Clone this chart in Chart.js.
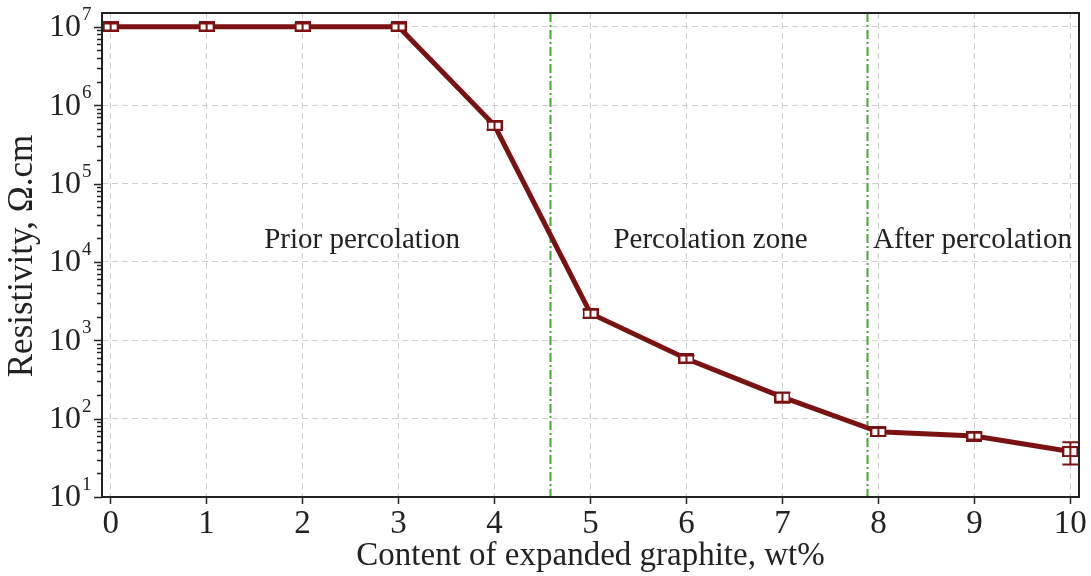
<!DOCTYPE html>
<html>
<head>
<meta charset="utf-8">
<script src="https://cdn.jsdelivr.net/npm/chart.js@4"></script>
<style>
  html, body { margin: 0; padding: 0; background: #ffffff; }
  #wrap { width: 1091px; height: 576px; }
</style>
</head>
<body>
<div id="wrap"><canvas id="resChart" width="1091" height="576"></canvas></div>
<script>
// ---------- data ----------
const graphiteContent = [0, 1, 2, 3, 4, 5, 6, 7, 8, 9, 10];
const resistivity = [1.0e7, 1.0e7, 1.0e7, 1.0e7, 5.5e5, 2.2e3, 580, 188, 68, 60, 38];
const resistivityErr = [1.0e6, 1.0e6, 1.0e6, 1.0e6, 6.5e4, 2.6e2, 60, 28, 8, 6, 12];
const xTicks = [0, 1, 2, 3, 4, 5, 6, 7, 8, 9, 10];
const yExponents = [1, 2, 3, 4, 5, 6, 7];
const zoneEdges = [4.58, 7.88];
const zoneNames = ["Prior percolation", "Percolation zone", "After percolation"];

const SERIF = "'Liberation Serif', 'Times New Roman', serif";
const INK = "#222222";
const LINE_RED = "#7a1212";

// open rectangle marker
const marker = document.createElement("canvas");
marker.width = 16;
marker.height = 11;
(function () {
  const m = marker.getContext("2d");
  m.fillStyle = "#ffffff";
  m.fillRect(1, 1, 14, 9);
  m.strokeStyle = LINE_RED;
  m.lineWidth = 2;
  m.strokeRect(1, 1, 14, 9);
})();

// ---------- extras: frame, y ticks/labels, zones, error bars ----------
const extras = {
  id: "extras",
  beforeDatasetsDraw(chart) {
    const { ctx, chartArea: a, scales: { x, y } } = chart;
    ctx.save();
    // zone boundaries
    ctx.strokeStyle = "#45a833";
    ctx.lineWidth = 2;
    ctx.setLineDash([9, 3, 2, 3]);
    zoneEdges.forEach(v => {
      const px = Math.round(x.getPixelForValue(v)) + 0.5;
      ctx.beginPath();
      ctx.moveTo(px, a.top);
      ctx.lineTo(px, a.bottom);
      ctx.stroke();
    });
    ctx.setLineDash([]);
    // zone names
    ctx.fillStyle = INK;
    ctx.font = "29px " + SERIF;
    ctx.textAlign = "center";
    ctx.textBaseline = "middle";
    const ty = y.getPixelForValue(1.9e4);
    const cx = [2.62, 6.25, 8.98];
    zoneNames.forEach((t, i) => ctx.fillText(t, x.getPixelForValue(cx[i]), ty));
    ctx.restore();
  },
  afterDatasetsDraw(chart) {
    const { ctx, scales: { x, y } } = chart;
    ctx.save();
    ctx.strokeStyle = LINE_RED;
    ctx.lineWidth = 2;
    graphiteContent.forEach((g, i) => {
      const px = x.getPixelForValue(g);
      const hi = y.getPixelForValue(resistivity[i] + resistivityErr[i]);
      const lo = y.getPixelForValue(resistivity[i] - resistivityErr[i]);
      ctx.beginPath();
      ctx.moveTo(px, hi); ctx.lineTo(px, lo);
      ctx.moveTo(px - 8, hi); ctx.lineTo(px + 8, hi);
      ctx.moveTo(px - 8, lo); ctx.lineTo(px + 8, lo);
      ctx.stroke();
    });
    ctx.restore();
  },
  afterDraw(chart) {
    const { ctx, chartArea: a, scales: { y } } = chart;
    ctx.save();
    // frame
    ctx.strokeStyle = INK;
    ctx.lineWidth = 2;
    ctx.strokeRect(a.left, a.top, a.right - a.left, a.bottom - a.top);
    // y tick marks, major and minor
    ctx.lineWidth = 1.5;
    for (let e = 1; e <= 7; e++) {
      for (let k = 1; k <= 9; k++) {
        const v = k * Math.pow(10, e);
        if (v > y.max) break;
        const py = Math.round(y.getPixelForValue(v)) + 0.5;
        const len = k === 1 ? 8 : 5;
        ctx.beginPath();
        ctx.moveTo(a.left - len, py);
        ctx.lineTo(a.left, py);
        ctx.stroke();
      }
    }
    // y labels 10^n
    ctx.fillStyle = INK;
    ctx.textBaseline = "middle";
    yExponents.forEach(n => {
      const py = y.getPixelForValue(Math.pow(10, n));
      ctx.font = "32px " + SERIF;
      ctx.textAlign = "right";
      ctx.fillText("10", 81, py + 1);
      ctx.font = "19px " + SERIF;
      ctx.textAlign = "left";
      ctx.fillText(String(n), 82, py - 12);
    });
    // y title
    ctx.translate(23, 256);
    ctx.rotate(-Math.PI / 2);
    ctx.textAlign = "center";
    ctx.font = "35px " + SERIF;
    ctx.fillText("Resistivity, \u03A9.cm", 0, 0);
    ctx.restore();
  }
};

// ---------- chart ----------
new Chart(document.getElementById("resChart"), {
  type: "line",
  data: {
    labels: graphiteContent,
    datasets: [{
      label: "Resistivity",
      data: graphiteContent.map((g, i) => ({ x: g, y: resistivity[i] })),
      borderColor: LINE_RED,
      borderWidth: 5,
      pointStyle: marker,
      pointRadius: 6,
      tension: 0,
      fill: false
    }]
  },
  options: {
    responsive: false,
    animation: false,
    events: [],
    layout: { padding: { top: 13, right: 12, left: 0, bottom: 0 } },
    plugins: {
      legend: { display: false },
      tooltip: { enabled: false }
    },
    scales: {
      x: {
        type: "linear",
        min: -0.09,
        max: 10.09,
        afterBuildTicks(scale) {
          scale.ticks = xTicks.map(v => ({ value: v }));
        },
        afterFit(scale) { scale.height = 79; },
        grid: {
          color: "#cfcfcf",
          lineWidth: 1,
          drawTicks: true,
          tickLength: 7,
          tickColor: INK,
          tickWidth: 1.5
        },
        border: { display: false, dash: [6, 4] },
        ticks: {
          color: INK,
          font: { family: SERIF, size: 33 },
          padding: 1,
          maxRotation: 0
        },
        title: {
          display: true,
          text: "Content of expanded graphite, wt%",
          color: INK,
          font: { family: SERIF, size: 33 },
          padding: { top: 0, bottom: 0 }
        }
      },
      y: {
        type: "logarithmic",
        min: 10,
        max: 1.5e7,
        afterBuildTicks(scale) {
          scale.ticks = yExponents.map(n => ({ value: Math.pow(10, n), major: true }));
        },
        afterFit(scale) { scale.width = 102; },
        grid: {
          color: "#cfcfcf",
          lineWidth: 1,
          drawTicks: false
        },
        border: { display: false, dash: [6, 4] },
        ticks: { display: false }
      }
    }
  },
  plugins: [extras]
});
</script>
</body>
</html>
